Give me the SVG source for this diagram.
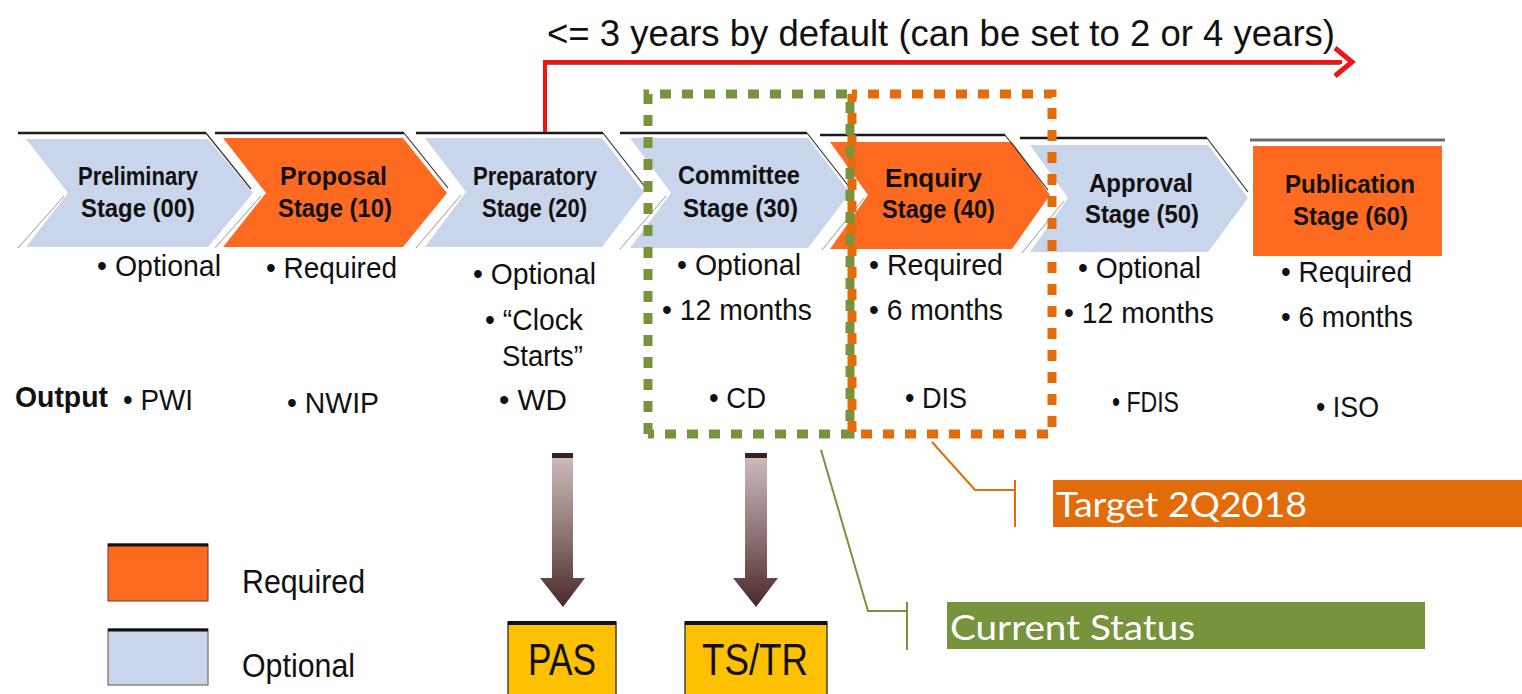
<svg xmlns="http://www.w3.org/2000/svg" width="1522" height="694" viewBox="0 0 1522 694">
<style>
.t{font-family:"Liberation Sans Narrow","Liberation Sans",Arial,sans-serif;fill:#111}
.h{font-size:25.5px;font-weight:bold}
.b{font-size:30px}
.ti{font-size:37px}
.out{font-size:30px;font-weight:bold}
.c{font-family:Lato,"Open Sans",sans-serif;font-size:35px;fill:#fff}
.opt{fill:#c9d5ea}
.req{fill:#fe6b20}
.top{stroke:#1a1a1a;stroke-width:2.5;fill:none}
.dg{stroke:#333;stroke-width:1.2;fill:none}
.fl{stroke:#9a9a9a;stroke-width:1;fill:none}
</style>
<defs>
<linearGradient id="ag" x1="0" y1="0" x2="0" y2="1">
<stop offset="0" stop-color="#cdbcbc"/>
<stop offset="0.55" stop-color="#8a7070"/>
<stop offset="1" stop-color="#4a2828"/>
</linearGradient>
</defs>

<text class="t ti" x="547" y="46" textLength="788" lengthAdjust="spacingAndGlyphs">&lt;= 3 years by default (can be set to 2 or 4 years)</text>

<g id="stage00">
<polygon class="opt" points="26,139 208,139 253,193 208,247 26,247 68,193"/>
<line class="top" x1="18" y1="133" x2="206" y2="133"/>
<polyline class="dg" points="206,133 251,189"/>
<polyline class="fl" points="18,248 64,196"/>
<text class="t h" x="78" y="185" textLength="120" lengthAdjust="spacingAndGlyphs">Preliminary</text>
<text class="t h" x="81" y="217" textLength="114" lengthAdjust="spacingAndGlyphs">Stage (00)</text>
</g>
<g id="stage10">
<polygon class="req" points="223,138 403,138 447,193 403,247 223,247 266,193"/>
<line class="top" x1="215" y1="133" x2="404" y2="133"/>
<polyline class="dg" points="404,133 448,188"/>
<polyline class="fl" points="215,248 261,196"/>
<text class="t h" x="280" y="185" textLength="107" lengthAdjust="spacingAndGlyphs">Proposal</text>
<text class="t h" x="278" y="217" textLength="114" lengthAdjust="spacingAndGlyphs">Stage (10)</text>
</g>
<g id="stage20">
<polygon class="opt" points="425,138 602,138 644,192 602,247 425,247 466,192"/>
<line class="top" x1="416" y1="133" x2="603" y2="133"/>
<polyline class="dg" points="603,133 645,187"/>
<polyline class="fl" points="416,248 461,195"/>
<text class="t h" x="473" y="185" textLength="124" lengthAdjust="spacingAndGlyphs">Preparatory</text>
<text class="t h" x="482" y="217" textLength="105" lengthAdjust="spacingAndGlyphs">Stage (20)</text>
</g>
<g id="stage30">
<polygon class="opt" points="630,138 808,138 850,193 808,248 630,248 671,193"/>
<line class="top" x1="620" y1="133" x2="807" y2="133"/>
<polyline class="dg" points="807,133 850,188"/>
<polyline class="fl" points="620,249 666,196"/>
<text class="t h" x="678" y="184" textLength="122" lengthAdjust="spacingAndGlyphs">Committee</text>
<text class="t h" x="683" y="217" textLength="115" lengthAdjust="spacingAndGlyphs">Stage (30)</text>
</g>
<g id="stage40">
<polygon class="req" points="830,142 1012,142 1050,195 1012,249 830,249 868,195"/>
<line class="top" x1="820" y1="135" x2="1005" y2="135"/>
<polyline class="dg" points="1005,135 1048,190"/>
<polyline class="fl" points="822,250 864,198"/>
<text class="t h" x="885" y="187" textLength="97" lengthAdjust="spacingAndGlyphs">Enquiry</text>
<text class="t h" x="882" y="218" textLength="113" lengthAdjust="spacingAndGlyphs">Stage (40)</text>
</g>
<g id="stage50">
<polygon class="opt" points="1030,145 1208,145 1248,198 1208,252 1030,252 1068,198"/>
<line class="top" x1="1020" y1="138" x2="1207" y2="138"/>
<polyline class="dg" points="1207,138 1248,192"/>
<polyline class="fl" points="1022,253 1064,201"/>
<text class="t h" x="1089" y="192" textLength="104" lengthAdjust="spacingAndGlyphs">Approval</text>
<text class="t h" x="1085" y="223" textLength="114" lengthAdjust="spacingAndGlyphs">Stage (50)</text>
</g>
<g id="stage60">
<rect class="req" x="1253" y="146" width="189" height="110"/>
<line x1="1250" y1="140" x2="1445" y2="140" stroke="#6d6d6d" stroke-width="3"/>
<text class="t h" x="1285" y="193" textLength="130" lengthAdjust="spacingAndGlyphs">Publication</text>
<text class="t h" x="1293" y="225" textLength="115" lengthAdjust="spacingAndGlyphs">Stage (60)</text>
</g>

<g id="details">
<text class="t b" x="97" y="276" textLength="124" lengthAdjust="spacingAndGlyphs">• Optional</text>
<text class="t b" x="266" y="278" textLength="131" lengthAdjust="spacingAndGlyphs">• Required</text>
<text class="t b" x="473" y="284" textLength="123" lengthAdjust="spacingAndGlyphs">• Optional</text>
<text class="t b" x="485" y="330" textLength="98" lengthAdjust="spacingAndGlyphs">• “Clock</text>
<text class="t b" x="502" y="366" textLength="81" lengthAdjust="spacingAndGlyphs">Starts”</text>
<text class="t b" x="677" y="275" textLength="124" lengthAdjust="spacingAndGlyphs">• Optional</text>
<text class="t b" x="662" y="320" textLength="150" lengthAdjust="spacingAndGlyphs">• 12 months</text>
<text class="t b" x="869" y="275" textLength="134" lengthAdjust="spacingAndGlyphs">• Required</text>
<text class="t b" x="869" y="320" textLength="134" lengthAdjust="spacingAndGlyphs">• 6 months</text>
<text class="t b" x="1078" y="278" textLength="123" lengthAdjust="spacingAndGlyphs">• Optional</text>
<text class="t b" x="1064" y="323" textLength="150" lengthAdjust="spacingAndGlyphs">• 12 months</text>
<text class="t b" x="1281" y="282" textLength="131" lengthAdjust="spacingAndGlyphs">• Required</text>
<text class="t b" x="1281" y="327" textLength="132" lengthAdjust="spacingAndGlyphs">• 6 months</text>
</g>

<g id="outputs">
<text class="t out" x="15" y="407" textLength="93" lengthAdjust="spacingAndGlyphs">Output</text>
<text class="t b" x="123" y="410" textLength="70" lengthAdjust="spacingAndGlyphs">• PWI</text>
<text class="t b" x="287" y="413" textLength="92" lengthAdjust="spacingAndGlyphs">• NWIP</text>
<text class="t b" x="499" y="410" textLength="68" lengthAdjust="spacingAndGlyphs">• WD</text>
<text class="t b" x="709" y="408" textLength="57" lengthAdjust="spacingAndGlyphs">• CD</text>
<text class="t b" x="905" y="408" textLength="62" lengthAdjust="spacingAndGlyphs">• DIS</text>
<text class="t b" x="1112" y="412" textLength="67" lengthAdjust="spacingAndGlyphs">• FDIS</text>
<text class="t b" x="1316" y="417" textLength="63" lengthAdjust="spacingAndGlyphs">• ISO</text>
</g>

<g id="connectors">
<line x1="547" y1="64" x2="1340" y2="64" stroke="#3a0000" stroke-width="2" opacity="0.6"/>
<polyline points="545,132 545,62 1342,62" fill="none" stroke="#ee1515" stroke-width="4"/>
<polyline points="1335,48 1352,62 1335,76" fill="none" stroke="#ee1515" stroke-width="5"/>
<path d="M648,434 V94 H850 V434 H648" fill="none" stroke="#77933c" stroke-width="9" stroke-dasharray="11 11"/>
<path d="M852,94 V434 H1052 V94 H852" fill="none" stroke="#e36c0a" stroke-width="9" stroke-dasharray="11 11" stroke-dashoffset="3"/>
<polyline points="932,442 975,490 1015,490" fill="none" stroke="#e36c0a" stroke-width="2"/>
<line x1="1015" y1="480" x2="1015" y2="527" stroke="#e36c0a" stroke-width="2"/>
<polyline points="821,450 868,611 907,611" fill="none" stroke="#77933c" stroke-width="2"/>
<line x1="907" y1="602" x2="907" y2="650" stroke="#77933c" stroke-width="2"/>
<g id="arrowPAS">
<polygon points="552,455 573,455 573,578 585,578 563,607 540,578 552,578" fill="url(#ag)"/>
<rect x="552" y="453" width="21" height="5" fill="#3a2020"/>
</g>
<g id="arrowTS">
<polygon points="745,455 767,455 767,578 778,578 756,607 733,578 745,578" fill="url(#ag)"/>
<rect x="745" y="453" width="22" height="5" fill="#3a2020"/>
</g>
</g>

<g id="target">
<rect x="1053" y="480" width="469" height="47" fill="#e36c0a"/>
<text class="c" x="1056" y="517" textLength="251" lengthAdjust="spacingAndGlyphs">Target 2Q2018</text>
</g>
<g id="current">
<rect x="947" y="602" width="478" height="47" fill="#77933c"/>
<text class="c" x="950" y="640" textLength="245" lengthAdjust="spacingAndGlyphs">Current Status</text>
</g>

<g id="pas">
<rect x="508" y="622" width="108" height="80" fill="#ffc000" stroke="#444" stroke-width="1.5"/>
<line x1="508" y1="623" x2="616" y2="623" stroke="#111" stroke-width="4"/>
<text class="t" x="528" y="675" font-size="44" textLength="68" lengthAdjust="spacingAndGlyphs">PAS</text>
</g>
<g id="tstr">
<rect x="685" y="622" width="142" height="80" fill="#ffc000" stroke="#444" stroke-width="1.5"/>
<line x1="685" y1="623" x2="827" y2="623" stroke="#111" stroke-width="4"/>
<text class="t" x="702" y="675" font-size="44" textLength="106" lengthAdjust="spacingAndGlyphs">TS/TR</text>
</g>

<g id="legend-required">
<rect x="108" y="544" width="100" height="57" fill="#fe6b20" stroke="#5a3a3a" stroke-width="1"/>
<line x1="108" y1="545" x2="208" y2="545" stroke="#111" stroke-width="3"/>
<text class="t" x="242" y="593" font-size="34" textLength="123" lengthAdjust="spacingAndGlyphs">Required</text>
</g>
<g id="legend-optional">
<rect x="108" y="629" width="100" height="56" fill="#c9d5ea" stroke="#6b4a4a" stroke-width="1"/>
<line x1="108" y1="630" x2="208" y2="630" stroke="#111" stroke-width="3"/>
<text class="t" x="242" y="677" font-size="34" textLength="113" lengthAdjust="spacingAndGlyphs">Optional</text>
</g>
</svg>
